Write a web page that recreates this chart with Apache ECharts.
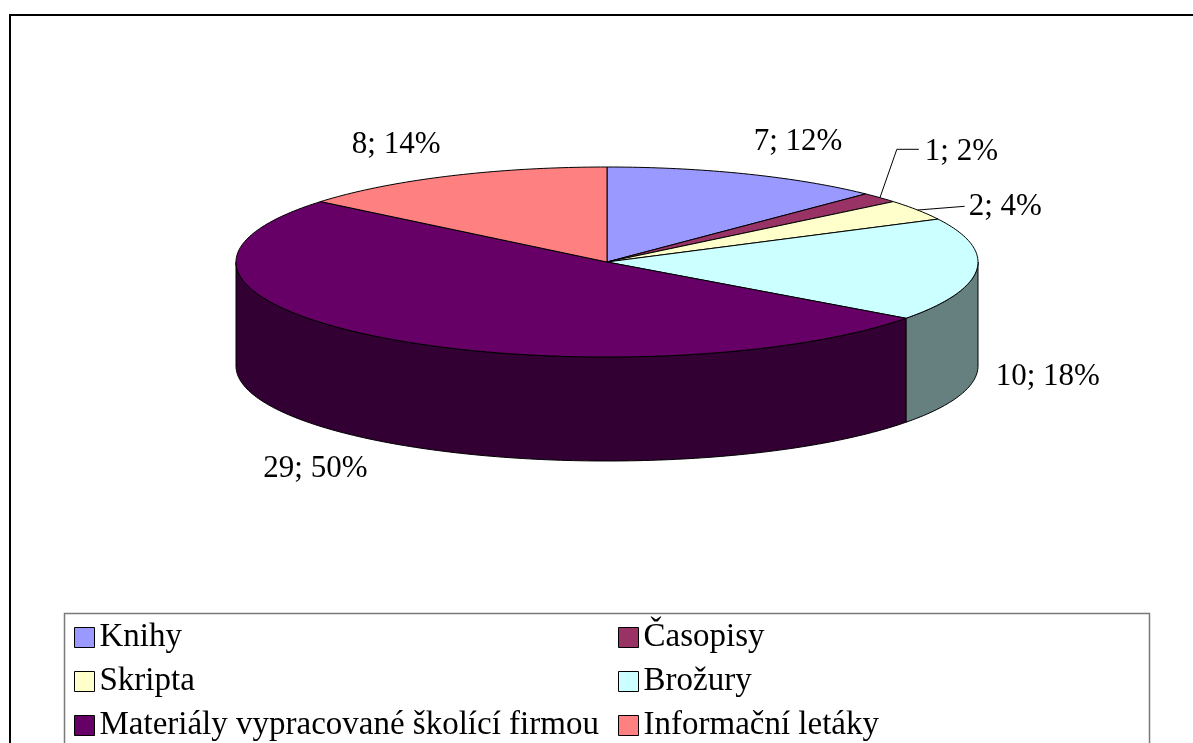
<!DOCTYPE html>
<html>
<head>
<meta charset="utf-8">
<script src="https://cdn.jsdelivr.net/npm/echarts@6/dist/echarts.min.js"></script>
<style>
  html, body { margin: 0; padding: 0; background: #fff; }
  #chart { width: 1193px; height: 743px; }
</style>
</head>
<body>
<div id="chart"></div>
<script>
// data
var categories = ['Knihy', 'Časopisy', 'Skripta', 'Brožury', 'Materiály vypracované školící firmou', 'Informační letáky'];
var counts = [7, 1, 2, 10, 29, 8];
var percents = [12, 2, 4, 18, 50, 14];
var colors = ['#9999FF', '#993366', '#FFFFCC', '#CCFFFF', '#660066', '#FF8080'];

// layout of the flattened pie
var cx = 607, cy = 262, rx = 371, ry = 95, depth = 104;
var labelFont = '31px "Liberation Serif", "Times New Roman", serif';

var total = counts.reduce(function (a, b) { return a + b; }, 0);
var acc = 0;
var slices = counts.map(function (v) {
    var a0 = acc / total * 2 * Math.PI;
    acc += v;
    return { a0: a0, a1: acc / total * 2 * Math.PI };
});

function pt(a, kx, ky, dy) {
    return [cx + kx * Math.sin(a), cy - ky * Math.cos(a) + (dy || 0)];
}
function arc(a0, a1, dy) {
    var n = Math.max(2, Math.ceil((a1 - a0) / (Math.PI / 180)));
    var pts = [];
    for (var i = 0; i <= n; i++) {
        pts.push(pt(a0 + (a1 - a0) * i / n, rx, ry, dy));
    }
    return pts;
}
function darker(hex) {
    var n = parseInt(hex.slice(1), 16);
    var r = ((n >> 16) & 255) >> 1, g = ((n >> 8) & 255) >> 1, b = (n & 255) >> 1;
    return 'rgb(' + r + ',' + g + ',' + b + ')';
}

// label placement, small slices pushed out with leader lines
var labels = slices.map(function (s, i) {
    var m = (s.a0 + s.a1) / 2;
    var small = counts[i] / total < 0.05;
    var p = pt(m, small ? 432 : 390, small ? 100 : 130, Math.cos(m) < 0 ? depth : 0);
    var sn = Math.sin(m);
    return {
        x: p[0], y: p[1], small: small, shifted: false,
        rim: pt(m, rx, ry),
        align: sn > 0.2 ? 'left' : (sn < -0.2 ? 'right' : 'center')
    };
});
var smallOnes = labels.filter(function (l) { return l.small; })
    .sort(function (a, b) { return b.y - a.y; });
for (var k = 1; k < smallOnes.length; k++) {
    if (smallOnes[k - 1].y - smallOnes[k].y < 55) {
        smallOnes[k].y = smallOnes[k - 1].y - 55;
        smallOnes[k].shifted = true;
    }
}

function renderItem(params, api) {
    var i = params.dataIndex;
    var s = slices[i];
    var children = [];
    var top = [[cx, cy]].concat(arc(s.a0, s.a1, 0));
    children.push({
        type: 'polygon', z2: 10,
        shape: { points: top },
        style: { fill: colors[i], stroke: '#000', lineWidth: 1 }
    });
    // front wall, visible between 90 and 270 degrees
    var lo = Math.max(s.a0, Math.PI / 2), hi = Math.min(s.a1, Math.PI * 1.5);
    if (hi > lo) {
        var side = arc(lo, hi, 0).concat(arc(lo, hi, depth).reverse());
        children.push({
            type: 'polygon', z2: 5,
            shape: { points: side },
            style: { fill: darker(colors[i]), stroke: '#000', lineWidth: 1 }
        });
    }
    var l = labels[i];
    if (l.small) {
        var pts = l.shifted
            ? [l.rim, [l.x - 28, l.y - 3], [l.x - 6, l.y - 3]]
            : [l.rim, [l.x - 4, l.y - 1]];
        children.push({
            type: 'polyline', z2: 15,
            shape: { points: pts },
            style: { stroke: '#000', lineWidth: 1, fill: null }
        });
    }
    children.push({
        type: 'text', z2: 20, x: l.x, y: l.y,
        style: {
            text: counts[i] + '; ' + percents[i] + '%',
            font: labelFont, fill: '#000',
            align: l.align, verticalAlign: 'middle'
        }
    });
    return { type: 'group', children: children };
}

function $extend(a, b) {
    var o = {};
    for (var key in a) o[key] = a[key];
    for (var key2 in b) o[key2] = b[key2];
    return o;
}

var legendBase = {
    orient: 'vertical', top: 621, height: 300, padding: 0,
    itemWidth: 20, itemHeight: 20, itemGap: 11, icon: 'rect',
    selectedMode: false,
    itemStyle: { borderColor: '#000', borderWidth: 1 },
    textStyle: { fontFamily: 'Liberation Serif', fontSize: 33, color: '#000' }
};

var myChart = echarts.init(document.getElementById('chart'));
myChart.setOption({
    animation: false,
    backgroundColor: '#fff',
    legend: [
        $extend(legendBase, { left: 74, data: [categories[0], categories[2], categories[4]] }),
        $extend(legendBase, { left: 618, data: [categories[1], categories[3], categories[5]] })
    ],
    graphic: [
        { type: 'rect', shape: { x: 10, y: 15, width: 1300, height: 900 },
          style: { fill: 'none', stroke: '#000', lineWidth: 2 }, silent: true },
        { type: 'rect', shape: { x: 64.5, y: 613.5, width: 1085, height: 300 },
          style: { fill: 'none', stroke: '#7a7a7a', lineWidth: 1.5 }, silent: true }
    ],
    series: [
        {
            // only feeds the legend
            type: 'pie', radius: 1, center: [-50, -50], silent: true,
            label: { show: false }, labelLine: { show: false },
            data: categories.map(function (n, i) {
                return { name: n, value: counts[i], itemStyle: { color: colors[i] } };
            })
        },
        {
            type: 'custom', coordinateSystem: 'none', silent: true,
            data: counts,
            renderItem: renderItem
        }
    ]
});
window.onresize = myChart.resize;
</script>
</body>
</html>
